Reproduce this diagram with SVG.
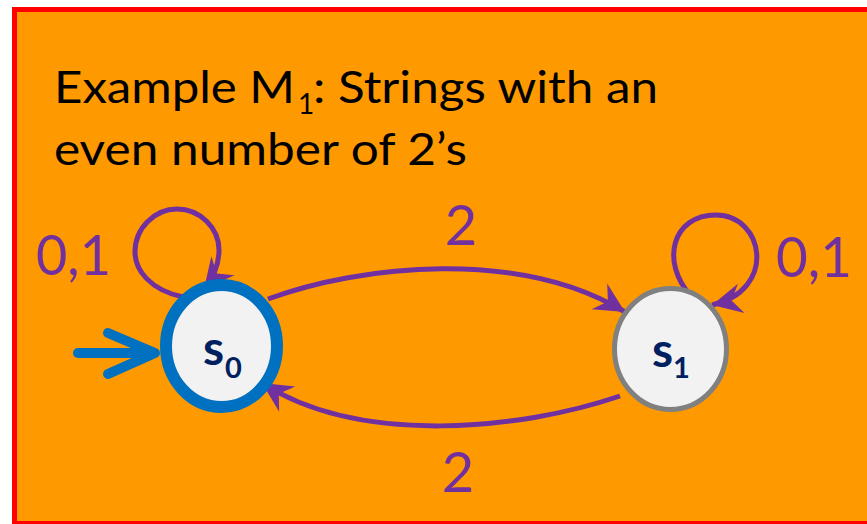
<svg xmlns="http://www.w3.org/2000/svg" width="867" height="524" viewBox="0 0 867 524">
<style>
.title{font-family:Lato,"Liberation Sans",Arial,sans-serif;fill:#000;}
.lbl{font-family:Lato,"Liberation Sans",Arial,sans-serif;fill:#7030a0;font-size:56px;}
.edge{fill:none;stroke:#7030a0;stroke-width:5;}
.state{font-family:Lato,"Liberation Sans",Arial,sans-serif;font-weight:bold;fill:#002060;}
</style>
<defs>
<marker id="ah" markerUnits="userSpaceOnUse" markerWidth="40" markerHeight="40" viewBox="-30 -15 32 30" refX="0" refY="0" orient="auto">
<path d="M0,0 L-24,-12 L-16,0 L-24,12 Z" fill="#7030a0"/>
</marker>
</defs>
<rect x="0" y="0" width="867" height="524" fill="#ffffff"/>
<rect x="14.5" y="9.5" width="870" height="514" fill="#ff9900" stroke="#ff0000" stroke-width="5"/>
<g id="title">
<text class="title" x="54" y="103" font-size="44" textLength="241" lengthAdjust="spacingAndGlyphs">Example M</text>
<text class="title" x="298" y="114" font-size="28">1</text>
<text class="title" x="313" y="103" font-size="44" textLength="345" lengthAdjust="spacingAndGlyphs">: Strings with an</text>
<text class="title" x="54" y="165" font-size="44" textLength="413" lengthAdjust="spacingAndGlyphs">even number of 2’s</text>
</g>
<g id="connectors">
<g id="start-arrow" stroke="#0070c0" stroke-width="10" stroke-linecap="round" stroke-linejoin="round" fill="none">
<line x1="78" y1="353" x2="152" y2="353"/>
<polyline points="108,333 155,353 108,374"/>
</g>
<path id="loop-s0" class="edge" d="M183,297 C150,290 135,270 135,252 C135,228 155,209 177,209 C200,209 219,228 219,250 C219,265 213,278 204,289" marker-end="url(#ah)"/>
<path id="loop-s1" class="edge" d="M691,296 C660,262 672,215 716,215 C764,215 778,290 712,305" marker-end="url(#ah)"/>
<path id="s0-s1" class="edge" d="M268,299 C360,265 520,248 625,312" marker-end="url(#ah)"/>
<path id="s1-s0" class="edge" d="M620,396 C520,430 360,446 262,383" marker-end="url(#ah)"/>
<text class="lbl" x="36" y="275" textLength="75" lengthAdjust="spacingAndGlyphs">0,1</text>
<text class="lbl" x="776" y="277" textLength="76" lengthAdjust="spacingAndGlyphs">0,1</text>
<text class="lbl" x="461" y="245" text-anchor="middle">2</text>
<text class="lbl" x="458" y="492" text-anchor="middle">2</text>
</g>
<g id="s0">
<ellipse cx="221.5" cy="346" rx="55.5" ry="61" fill="#f2f2f2" stroke="#0070c0" stroke-width="12"/>
<text class="state" x="203" y="365" font-size="48">s</text>
<text class="state" x="225" y="378" font-size="29">0</text>
</g>
<g id="s1">
<ellipse cx="670.5" cy="349" rx="56" ry="60.5" fill="#f2f2f2" stroke="#808080" stroke-width="5"/>
<text class="state" x="652" y="367" font-size="48">s</text>
<text class="state" x="673" y="378" font-size="29">1</text>
</g>
</svg>
